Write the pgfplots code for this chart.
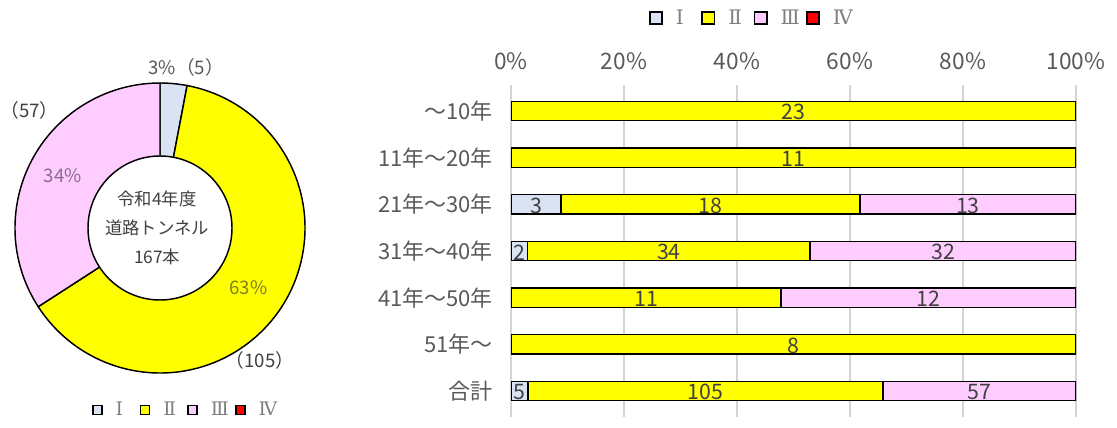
\documentclass[border=0pt]{standalone}
\usepackage{pgfplots}
\pgfplotsset{compat=1.18}
\usepackage{fontspec}
\setmainfont{Noto Sans CJK JP}
\newfontfamily\rom{DejaVu Serif}
\definecolor{cI}{HTML}{DAE3F3}
\definecolor{cII}{HTML}{FFFF00}
\definecolor{cIII}{HTML}{FFCCFF}
\definecolor{cIV}{HTML}{FF0000}
\definecolor{txt}{HTML}{595959}
\definecolor{lab}{HTML}{404040}
\definecolor{legtxt}{HTML}{7F7F7F}
\definecolor{purp}{HTML}{8B6A94}
\definecolor{oliv}{HTML}{808020}
\begin{document}
\begin{tikzpicture}
\path[use as bounding box] (0,0) rectangle (837.75pt,321pt);
% ---------- donut ----------
\pgfmathsetmacro\tot{5+105+57}
\pgfmathsetmacro\aA{90}
\pgfmathsetmacro\aB{90-360*(5/\tot)}
\pgfmathsetmacro\aC{\aB-360*(105/\tot)}
\pgfmathsetmacro\aD{\aC-360*(57/\tot)}
\begin{axis}[at={(120pt,150pt)}, anchor=center, scale only axis,
  width=217.5pt, height=217.5pt, xmin=-1, xmax=1, ymin=-1, ymax=1,
  hide axis, clip=false,
  legend columns=4,
  legend style={draw=none, fill=none, inner sep=0pt, outer sep=0pt,
    at={(0.2655,-0.128)}, anchor=west,
    font=\rom\fontsize{14pt}{14pt}\selectfont, text=legtxt,
    nodes={inner sep=0pt},
    /tikz/every odd column/.append style={column sep=9.75pt},
    /tikz/every even column/.append style={column sep=6pt}},
  legend image code/.code={\draw[#1,draw=black,line width=1.2pt] (0pt,-3.4pt) rectangle (6.8pt,3.4pt);}]
\addlegendimage{fill=cI}
\addlegendimage{fill=cII}
\addlegendimage{fill=cIII}
\addlegendimage{fill=cIV}
\legend{\makebox[12pt][l]{Ⅰ},\makebox[12pt][l]{Ⅱ},\makebox[12pt][l]{Ⅲ},\makebox[12pt][l]{Ⅳ}}
\filldraw[fill=cI, draw=black, line width=1.1pt] (axis cs:0,0) -- ++(\aA:108.75pt) arc[start angle=\aA, end angle=\aB, radius=108.75pt] -- cycle;
\filldraw[fill=cII, draw=black, line width=1.1pt] (axis cs:0,0) -- ++(\aB:108.75pt) arc[start angle=\aB, end angle=\aC, radius=108.75pt] -- cycle;
\filldraw[fill=cIII, draw=black, line width=1.1pt] (axis cs:0,0) -- ++(\aC:108.75pt) arc[start angle=\aC, end angle=\aD, radius=108.75pt] -- cycle;
\filldraw[fill=white, draw=black, line width=1.1pt] (axis cs:0,0) circle[radius=54pt];
\node[text=lab, align=center, font=\fontsize{13pt}{21.5pt}\selectfont] at (axis cs:-0.02,0.0) {令和4年度\\道路トンネル\\167本};
\node[text=txt, font=\fontsize{14pt}{14pt}\selectfont] at (axis cs:0.18,1.11) {3\%（5）};
\node[text=lab, font=\fontsize{14pt}{14pt}\selectfont] at (axis cs:-0.90,0.81) {（57）};
\node[text=purp, font=\fontsize{14pt}{14pt}\selectfont] at (axis cs:-0.67,0.36) {34\%};
\node[text=oliv, font=\fontsize{14pt}{14pt}\selectfont] at (axis cs:0.61,-0.41) {63\%};
\node[text=lab, font=\fontsize{14pt}{14pt}\selectfont] at (axis cs:0.69,-0.91) {（105）};
\end{axis}
% ---------- stacked bars ----------
\begin{axis}[at={(383.25pt,8.5pt)}, anchor=south west, scale only axis,
  width=423.75pt, height=248.5pt,
  xbar stacked, bar width=14.5pt,
  xmin=0, xmax=100, ymin=-0.55, ymax=6.55,
  xtick={0,20,40,60,80,100}, xticklabels={0\%,20\%,40\%,60\%,80\%,100\%},
  xticklabel pos=top,
  ytick={0,1,2,3,4,5,6},
  yticklabels={合計,51年～,41年～50年,31年～40年,21年～30年,11年～20年,～10年},
  axis line style={draw=none}, major tick length=0pt,
  xmajorgrids, grid style={draw=black!17, line width=0.9pt},
  xticklabel style={text=txt, font=\fontsize{17pt}{17pt}\selectfont, yshift=8pt},
  yticklabel style={text=txt, font=\fontsize{16.5pt}{16.5pt}\selectfont, xshift=-10pt},
  point meta=explicit symbolic,
  nodes near coords,
  every node near coord/.append style={anchor=center, yshift=-1pt,
     text=lab, font=\fontsize{16pt}{16pt}\selectfont},
  every axis plot/.append style={draw=black, line width=1.2pt},
  legend columns=4,
  legend style={draw=none, fill=none, inner sep=0pt, outer sep=0pt,
    at={(0.2442,1.203)}, anchor=west,
    font=\rom\fontsize{15pt}{15pt}\selectfont, text=legtxt,
    nodes={inner sep=0pt},
    /tikz/every odd column/.append style={column sep=9.75pt},
    /tikz/every even column/.append style={column sep=7pt}},
  legend image code/.code={\draw[#1,draw=black,line width=1.3pt] (0pt,-4.6pt) rectangle (9.2pt,4.6pt);}
]
\addplot[fill=cI] coordinates {(0,6) [] (0,5) [] (8.824,4) [3] (2.941,3) [2] (0,2) [] (0,1) [] (2.994,0) [5]};
\addplot[fill=cII] coordinates {(100,6) [23] (100,5) [11] (52.941,4) [18] (50,3) [34] (47.826,2) [11] (100,1) [8] (62.874,0) [105]};
\addplot[fill=cIII] coordinates {(0,6) [] (0,5) [] (38.235,4) [13] (47.059,3) [32] (52.174,2) [12] (0,1) [] (34.132,0) [57]};
\addlegendimage{fill=cIV}
\legend{\makebox[12pt][l]{Ⅰ},\makebox[12pt][l]{Ⅱ},\makebox[12pt][l]{Ⅲ},\makebox[12pt][l]{Ⅳ}}
\end{axis}
\end{tikzpicture}
\end{document}
